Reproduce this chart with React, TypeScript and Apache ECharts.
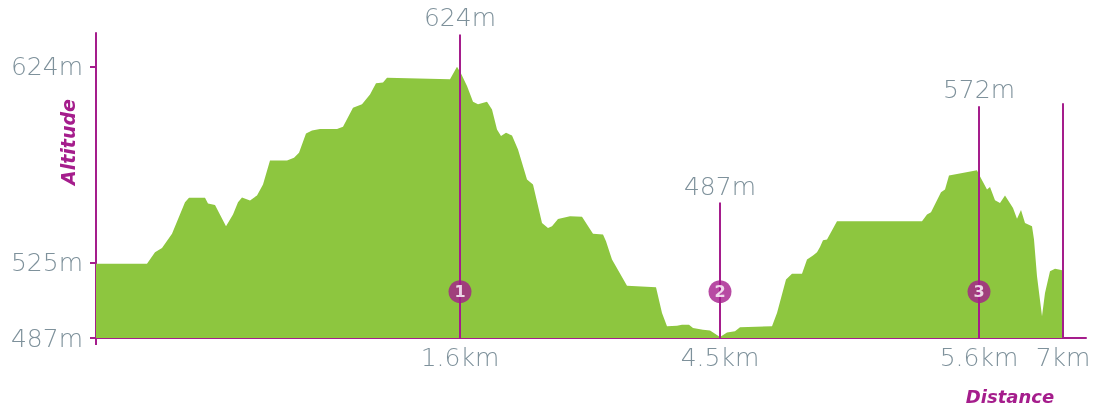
import React, { useEffect, useRef } from "react";
import * as echarts from "echarts";

// Profile: distance (route units, 0..~97) and altitude (m)
const distances: number[] = [
  0.0, 5.1, 5.9, 6.6, 7.6, 8.9, 9.3, 10.9, 11.2, 11.9, 13.0, 13.7, 14.2, 14.6, 15.4, 16.1, 16.7, 17.4,
  19.1, 19.8, 20.3, 21.0, 21.6, 22.4, 24.1, 24.7, 25.7, 26.6, 27.4, 28.0, 28.7, 29.1, 35.4, 36.1,
  36.5, 37.1, 37.7, 38.2, 39.1, 39.6, 40.1, 40.5, 41.0, 41.6, 42.2, 43.1, 43.7, 44.6, 45.2, 45.6,
  46.2, 47.4, 48.6, 49.1, 49.7, 50.7, 51.0, 51.6, 53.1, 56.0, 56.6, 57.1, 58.1, 58.6, 59.3, 59.7,
  60.7, 61.4, 62.4, 63.1, 63.9, 64.4, 67.6, 68.1, 69.0, 69.6, 70.6, 71.1, 71.7, 72.1, 72.4, 72.7,
  73.1, 74.1, 82.6, 83.1, 83.5, 84.5, 84.9, 85.3, 88.1, 88.3, 89.1, 89.4, 89.9, 90.4, 90.9, 91.7,
  92.1, 92.5, 92.9, 93.6, 93.8, 94.1, 94.6, 94.9, 95.4, 95.9, 96.4, 96.6,
];
const altitudes: number[] = [
  524.5, 524.5, 530.3, 532.5, 539.7, 555.6, 557.8, 557.8, 554.9, 554.2, 543.4, 549.3, 555.6, 557.9,
  556.4, 559, 564.5, 576.6, 576.6, 578, 580.5, 590.3, 591.8, 592.5, 592.5, 593.7, 603.3, 605, 610,
  615.6, 616, 618.4, 617.6, 624, 620.6, 614.2, 606.3, 605, 606.3, 602.4, 592.3, 589, 590.6, 589.3,
  582.2, 567, 564.5, 545.1, 542.6, 543.4, 547.1, 548.5, 548.2, 544.3, 539.7, 539.2, 535.8, 526.6,
  513.4, 512.6, 499.6, 492.9, 493.2, 493.7, 493.7, 492, 491.2, 490.8, 487.5, 489.8, 490.4, 492.4,
  492.9, 499.6, 516.5, 519.5, 519.5, 526.6, 528.6, 530.3, 533, 536.4, 536.7, 546, 546, 549.3, 550.5,
  560.6, 562, 569, 571.7, 569.6, 562, 563.2, 556.6, 555.2, 559, 552.7, 547.2, 551.6, 545.1, 543.4,
  536.7, 518.2, 498, 509.7, 520.7, 522, 521.5, 521.2,
];

// Markers along the route
const markerPositions: number[] = [36.4, 62.4, 88.3, 96.7];
const markerDistanceLabels: string[] = ["1.6km", "4.5km", "5.6km", "7km"];
const markerLineTops: number[] = [640.3, 555.4, 604, 605.5];
const markerAltitudeLabels: string[] = ["624m", "487m", "572m", ""];
const badgeNumbers: string[] = ["1", "2", "3"];
const badgeAltitude = 510.4;

// Y axis ticks
const yTicks: number[] = [487, 525, 624];
const yMin = 487;
const yMax = 641;
const xMax = 99;

const PURPLE = "#a51d8c";
const GREEN = "#8dc63f";
const GREY = "#7e919b";
const FONT = "'DejaVu Sans'";
const LABEL_WEIGHT = 200;
const LABEL_SIZE = 25;

export default function App() {
  const ref = useRef<HTMLDivElement>(null);
  useEffect(() => {
    if (!ref.current) return;
    const chart = echarts.init(ref.current, null, { renderer: "svg" });
    const profile = distances.map((d, i) => [d, altitudes[i]]);
    const badges = badgeNumbers.map((n, i) => ({ value: [markerPositions[i], badgeAltitude], name: n }));
    chart.setOption({
      animation: false,
      grid: { left: 96, right: 13, top: 33, bottom: 70, outerBoundsMode: "none" },
      xAxis: {
        type: "value",
        min: 0,
        max: xMax,
        axisLine: { show: true, lineStyle: { color: PURPLE, width: 2 } },
        axisTick: { show: true, customValues: [0], length: 7, lineStyle: { color: PURPLE, width: 2 } },
        splitLine: { show: false },
        axisLabel: {
          show: true,
          customValues: markerPositions,
          formatter: (v: number) => {
            const i = markerPositions.findIndex((p) => Math.abs(p - v) < 1e-6);
            return i >= 0 ? markerDistanceLabels[i] : "";
          },
          color: GREY,
          fontFamily: FONT,
          fontWeight: LABEL_WEIGHT,
          fontSize: LABEL_SIZE,
          margin: 7,
        },
      },
      yAxis: {
        type: "value",
        min: yMin,
        max: yMax,
        axisLine: { show: true, lineStyle: { color: PURPLE, width: 2 } },
        axisTick: { show: true, customValues: yTicks, length: 6, lineStyle: { color: PURPLE, width: 2 } },
        splitLine: { show: false },
        axisLabel: {
          show: true,
          customValues: yTicks,
          formatter: (v: number) => `${v}m`,
          color: GREY,
          fontFamily: FONT,
          fontWeight: LABEL_WEIGHT,
          fontSize: LABEL_SIZE,
          margin: 13,
        },
      },
      graphic: [
        {
          type: "text",
          x: 68,
          y: 142,
          rotation: Math.PI / 2,
          style: {
            text: "Altitude",
            fill: PURPLE,
            font: `italic bold 19px ${FONT}`,
            align: "center",
            verticalAlign: "middle",
          },
        },
        {
          type: "text",
          x: 1010,
          y: 396,
          style: {
            text: "Distance",
            fill: PURPLE,
            font: `italic bold 18px ${FONT}`,
            align: "center",
            verticalAlign: "middle",
          },
        },
      ],
      series: [
        {
          type: "line",
          data: profile,
          symbol: "none",
          lineStyle: { width: 0 },
          areaStyle: { color: GREEN, opacity: 1 },
          z: 1,
          silent: true,
          markLine: {
            silent: true,
            symbol: ["none", "none"],
            lineStyle: { color: PURPLE, width: 2, type: "solid" },
            label: {
              show: true,
              position: "end",
              distance: 4,
              formatter: (p: any) => markerAltitudeLabels[p.dataIndex] || "",
              color: GREY,
              fontFamily: FONT,
              fontWeight: LABEL_WEIGHT,
              fontSize: LABEL_SIZE,
            },
            data: markerPositions.map((x, i) => [
              { coord: [x, yMin] },
              { coord: [x, markerLineTops[i]] },
            ]),
          },
        },
        {
          type: "scatter",
          data: badges,
          symbol: "circle",
          symbolSize: 23,
          itemStyle: { color: PURPLE },
          z: 5,
          label: {
            show: true,
            position: "inside",
            formatter: (p: any) => p.name,
            color: "#ffffff",
            fontFamily: FONT,
            fontWeight: "bold",
            fontSize: 16,
          },
        },
      ],
    });
    return () => chart.dispose();
  }, []);
  return (
    <div
      ref={ref}
      style={{ position: "fixed", left: 0, top: 0, width: 1099, height: 408 }}
    />
  );
}
